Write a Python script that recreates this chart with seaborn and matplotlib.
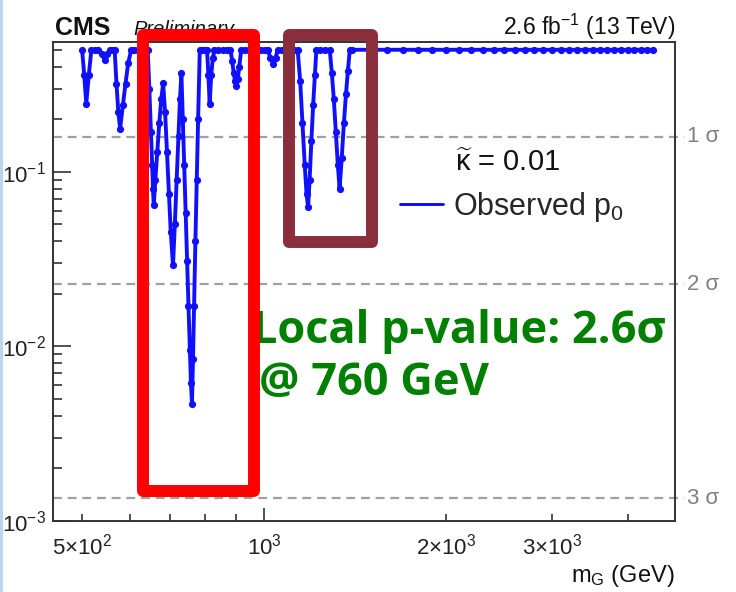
import matplotlib
matplotlib.use("Agg")
import matplotlib.pyplot as plt
import pandas as pd
import seaborn as sns
from matplotlib.lines import Line2D
from matplotlib.patches import Rectangle
from matplotlib.ticker import FixedLocator, FixedFormatter, LogLocator, NullFormatter

# Observed local p0 scan versus graviton mass (capped at 0.5)
mass_low_gev = [500, 504, 508, 513, 518, 525, 532, 540, 545, 550, 556, 562, 566,
                570, 574, 578, 584, 590, 596, 603, 610, 618, 626, 634, 642, 646,
                650, 653, 655, 657, 661, 666, 671, 676, 681, 686, 691, 696, 701,
                707, 712, 717, 722, 726, 730, 734, 738, 742, 746, 750, 754, 757,
                760, 763, 766, 770, 774, 778, 783, 790, 798, 805, 809, 813, 818,
                823, 828, 840, 855, 870, 880, 886, 891, 896, 900, 905, 910, 917,
                930, 945, 960, 975, 990, 1005, 1014, 1025, 1035, 1045, 1054,
                1070, 1085, 1100, 1120, 1137, 1148, 1158, 1168, 1176, 1183,
                1190, 1198, 1206, 1214, 1221, 1240, 1260, 1285, 1295, 1305,
                1315, 1325, 1334, 1345, 1356, 1367, 1377, 1387]
p0_low = [0.5, 0.36, 0.246, 0.36, 0.5, 0.5, 0.5, 0.47, 0.435, 0.47, 0.5, 0.5, 0.5,
          0.32, 0.22, 0.177, 0.24, 0.32, 0.42, 0.5, 0.5, 0.5, 0.5, 0.5, 0.5, 0.30,
          0.17, 0.11, 0.08, 0.0643, 0.09, 0.13, 0.19, 0.26, 0.321, 0.22, 0.13,
          0.075, 0.045, 0.0291, 0.05, 0.09, 0.16, 0.26, 0.366, 0.20, 0.11, 0.058,
          0.031, 0.017, 0.0095, 0.0062, 0.0047, 0.0085, 0.017, 0.04, 0.09, 0.2,
          0.5, 0.5, 0.5, 0.5, 0.36, 0.246, 0.36, 0.45, 0.5, 0.5, 0.5, 0.5, 0.5,
          0.43, 0.37, 0.33, 0.312, 0.34, 0.40, 0.5, 0.5, 0.5, 0.5, 0.5, 0.5, 0.5,
          0.5, 0.45, 0.417, 0.45, 0.5, 0.5, 0.5, 0.5, 0.5, 0.5, 0.33, 0.19, 0.11,
          0.075, 0.0628, 0.09, 0.15, 0.24, 0.36, 0.5, 0.5, 0.5, 0.5, 0.37, 0.26,
          0.17, 0.11, 0.080, 0.12, 0.19, 0.28, 0.38, 0.5]
mass_high_gev = [1400, 1500, 1600, 1700, 1800, 1900, 2000, 2100, 2200, 2300, 2400,
                 2500, 2600, 2700, 2800, 2900, 3000, 3100, 3200, 3300, 3400, 3500,
                 3600, 3700, 3800, 3900, 4000, 4100, 4200, 4300, 4400]
p0_high = [0.5, 0.5, 0.5, 0.5, 0.5, 0.5, 0.5, 0.5, 0.5, 0.5, 0.5, 0.5, 0.5, 0.5,
           0.5, 0.5, 0.5, 0.5, 0.5, 0.5, 0.5, 0.5, 0.5, 0.5, 0.5, 0.5, 0.5, 0.5,
           0.5, 0.5, 0.5]

# Gaussian one-sided significance reference levels
sigma_labels = ["1 σ", "2 σ", "3 σ"]
sigma_p = [0.1587, 0.02275, 0.00135]

x_major_ticks = [1000]
x_major_labels = [r"$10^{3}$"]
x_minor_ticks = [500, 600, 700, 800, 900, 2000, 3000, 4000]
x_minor_labels = [r"$5{\times}10^{2}$", "", "", "", "", r"$2{\times}10^{3}$",
                  r"$3{\times}10^{3}$", ""]

sns.set_theme(style="ticks")
plt.rcParams["font.family"] = ["Liberation Sans", "DejaVu Sans"]
plt.rcParams["mathtext.fontset"] = "custom"
plt.rcParams["mathtext.rm"] = "Liberation Sans"
plt.rcParams["mathtext.it"] = "Liberation Sans:italic"
plt.rcParams["mathtext.bf"] = "Liberation Sans:bold"

W, H = 736, 592
fig = plt.figure(figsize=(W / 100, H / 100), dpi=100)
fig.patch.set_facecolor("white")

ax_l, ax_r, ax_t, ax_b = 53, 675, 42, 521
ax = fig.add_axes([ax_l / W, 1 - ax_b / H, (ax_r - ax_l) / W, (ax_b - ax_t) / H])
ax.set_facecolor("white")
ax.set_xscale("log")
ax.set_yscale("log")

df = pd.DataFrame({"mass": mass_low_gev + mass_high_gev, "p0": p0_low + p0_high})
sns.lineplot(data=df, x="mass", y="p0", ax=ax, color="#1010ff", linewidth=2.8,
             marker="o", markersize=5.2, markeredgewidth=0, legend=False, zorder=3)

ax.set_xlim(447.5, 4790)
ax.set_ylim(1e-3, 0.554)
ax.set_xlabel("")
ax.set_ylabel("")

for lab, p in zip(sigma_labels, sigma_p):
    ax.axhline(p, xmin=0, xmax=1.014, color="#a0a0a0", lw=1.6,
               ls=(0, (4, 2.6)), clip_on=False, zorder=1)
    ax.text(1.019, p, lab, transform=ax.get_yaxis_transform(), va="center",
            ha="left", color="#808080", fontsize=16)

for side in ["left", "bottom", "right", "top"]:
    ax.spines[side].set_color("#333333")
    ax.spines[side].set_linewidth(1.4)

ax.xaxis.set_major_locator(FixedLocator(x_major_ticks))
ax.xaxis.set_major_formatter(FixedFormatter(x_major_labels))
ax.xaxis.set_minor_locator(FixedLocator(x_minor_ticks))
ax.xaxis.set_minor_formatter(FixedFormatter(x_minor_labels))
ax.yaxis.set_major_locator(LogLocator(base=10))
ax.yaxis.set_minor_locator(LogLocator(base=10, subs=[2, 3, 4, 5, 6, 7, 8, 9]))
ax.yaxis.set_minor_formatter(NullFormatter())

ax.tick_params(axis="x", which="both", direction="in", top=False, labelsize=16,
               pad=9, color="#333333", width=1.2, labelcolor="#222222")
ax.tick_params(axis="x", which="major", length=9.5)
ax.tick_params(axis="x", which="minor", length=5)
ax.tick_params(axis="y", which="both", direction="in", right=False, labelsize=16,
               pad=5, color="#333333", width=1.2, labelcolor="#222222")
ax.tick_params(axis="y", which="major", length=13)
ax.tick_params(axis="y", which="minor", length=6.5)

# Header texts
fig.text(55 / W, 1 - 35 / H, "CMS", fontsize=18, fontweight="bold", va="baseline",
         color="#111111")
fig.text(133 / W, 1 - 35 / H, "Preliminary", fontsize=14.5, fontstyle="italic",
         va="baseline", color="#111111")
fig.text(ax_r / W, 1 - 35 / H, r"2.6 fb$^{-1}$ (13 TeV)", fontsize=16.5,
         ha="right", va="baseline", color="#111111")
fig.text(ax_r / W, 1 - 582 / H, r"m$_{\mathrm{G}}$ (GeV)", fontsize=17,
         ha="right", va="baseline", color="#111111")

# Legend
fig.text(455 / W, 1 - 163 / H, r"$\widetilde{\mathrm{\kappa}}$ = 0.01", fontsize=21,
         va="center", ha="left", color="#111111")
handle = Line2D([], [], color="#0000ff", lw=2.0)
ax.legend([handle], [r"Observed p$_{0}$"], loc="center left",
          bbox_to_anchor=(400 / W, 1 - 207 / H), bbox_transform=fig.transFigure,
          frameon=False, borderpad=0, borderaxespad=0, fontsize=22,
          handlelength=1.4, handletextpad=0.33)

# Annotation
fig.text(252 / W, 1 - 343 / H, "Local p-value: 2.6σ", fontsize=32.5,
         fontweight="bold", color="#008000", va="baseline", ha="left",
         family=["Open Sans", "DejaVu Sans"], zorder=5)
fig.text(259 / W, 1 - 395 / H, "@ 760 GeV", fontsize=32.5,
         fontweight="bold", color="#008000", va="baseline", ha="left",
         family=["Open Sans", "DejaVu Sans"], zorder=5)

# Highlight boxes
red_box = Rectangle((142.5 / 100, (H - 491) / 100), (254 - 142.5) / 100,
                    (491 - 35) / 100, transform=fig.dpi_scale_trans, fill=False,
                    edgecolor="#ff0000", linewidth=8.6, joinstyle="round",
                    zorder=10)
brown_box = Rectangle((289 / 100, (H - 242) / 100), (372 - 289) / 100,
                      (242 - 35) / 100, transform=fig.dpi_scale_trans, fill=False,
                      edgecolor="#8b2e3c", linewidth=8.6, joinstyle="round",
                      zorder=10)
fig.add_artist(red_box)
fig.add_artist(brown_box)

# Slide edge strip
fig.add_artist(Rectangle((0, 0), 3 / W, 1, transform=fig.transFigure,
                         facecolor="#b5d7f0", edgecolor="none", zorder=11))

fig.savefig("out.png", dpi=100, facecolor="white")
